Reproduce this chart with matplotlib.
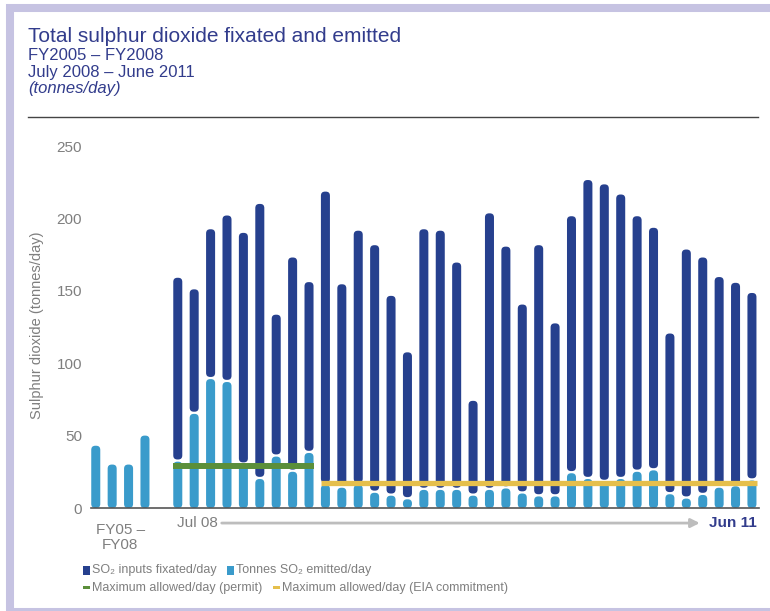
import matplotlib
matplotlib.use('Agg')
import matplotlib.pyplot as plt
from matplotlib.patches import FancyBboxPatch, Rectangle

plt.rcParams['font.family'] = ['Liberation Sans', 'DejaVu Sans']

# annual averages FY2005-FY2008 (only emissions reported)
fy_labels = ['FY05', 'FY06', 'FY07', 'FY08']
fy_emitted = [43, 30, 30, 50]

# monthly, Jul 2008 - Jun 2011
month_labels = ['Jul 08', 'Aug 08', 'Sep 08', 'Oct 08', 'Nov 08', 'Dec 08',
                'Jan 09', 'Feb 09', 'Mar 09', 'Apr 09', 'May 09', 'Jun 09',
                'Jul 09', 'Aug 09', 'Sep 09', 'Oct 09', 'Nov 09', 'Dec 09',
                'Jan 10', 'Feb 10', 'Mar 10', 'Apr 10', 'May 10', 'Jun 10',
                'Jul 10', 'Aug 10', 'Sep 10', 'Oct 10', 'Nov 10', 'Dec 10',
                'Jan 11', 'Feb 11', 'Mar 11', 'Apr 11', 'May 11', 'Jun 11']
emitted = [32, 65, 89, 87, 30, 20, 35.5, 25, 38, 16, 14, 16,
           10.5, 8.5, 6, 12.5, 12.5, 12.5, 8.5, 12.5, 13.5, 10, 8, 8,
           24, 20, 18, 20, 25, 26, 9.5, 6.5, 9, 14, 15, 19]
fixated = [127, 86, 103.5, 115, 160, 190, 98, 148, 118, 202.5, 140.5, 175.5,
           171, 138, 101.5, 180, 179, 157, 65.5, 191, 167, 130.5, 173.5, 119.5,
           177.5, 206.5, 205.5, 196.5, 176.5, 167.5, 111, 172, 164, 145.5, 140.5, 129.5]

permit_limit = 29      # Jul 08 - Mar 09
eia_limit = 17.5       # Apr 09 onwards
permit_months = 9

DARK = '#26408e'
LIGHT = '#3a9bcb'
GREEN = '#5b8f3a'
YELLOW = '#e5bf4c'
TITLE = '#323c8c'
GREY = '#7f7f7f'

W, H = 770, 611
fig = plt.figure(figsize=(W / 100, H / 100), dpi=100)


def fx(x):
    return x / W


def fy(y):
    return 1 - y / H


ax = fig.add_axes([fx(91), 103 / H, 668 / W, 362 / H])
xmin, xmax = -0.29, 40.43
ymin, ymax = 0, 250
ax.set_xlim(xmin, xmax)
ax.set_ylim(ymin, ymax)

# rounded bar pieces; aspect keeps the corners circular on screen
bar_w = 0.55
aspect = (668 / (xmax - xmin)) / (362 / (ymax - ymin))
gap = 1.5


def pill(x, y0, y1, color):
    h = y1 - y0
    if h <= 0:
        return
    r = min(bar_w * 0.45, h / aspect / 2)
    p = FancyBboxPatch((x - bar_w / 2, y0), bar_w, h,
                       boxstyle='round,pad=0,rounding_size=%f' % r,
                       mutation_aspect=aspect, fc=color, ec='none', zorder=2)
    ax.add_patch(p)


fy_pos = list(range(len(fy_labels)))
m_pos = [len(fy_labels) + 1 + i for i in range(len(month_labels))]

for x, e in zip(fy_pos, fy_emitted):
    pill(x, 0, e, LIGHT)
for x, e, f in zip(m_pos, emitted, fixated):
    pill(x, 0, e, LIGHT)
    pill(x, e + gap, e + f, DARK)

ax.hlines(permit_limit, m_pos[0] - 0.3, m_pos[permit_months - 1] + 0.3,
          color=GREEN, lw=4.3, zorder=3)
ax.hlines(eia_limit, m_pos[permit_months] - 0.3, m_pos[-1] + 0.3,
          color=YELLOW, lw=3.8, zorder=3)

for s in ['top', 'right', 'left']:
    ax.spines[s].set_visible(False)
ax.spines['bottom'].set_color('#555555')
ax.spines['bottom'].set_linewidth(1.2)
ax.set_xticks([])
ax.set_yticks(range(0, 251, 50))
ax.tick_params(axis='y', length=0, pad=6.5, labelsize=11, labelcolor=GREY)

fig.text(fx(37), fy(325), 'Sulphur dioxide (tonnes/day)', rotation=90,
         ha='center', va='center', fontsize=10.5, color=GREY)

# x-axis category text
ax.text((fy_pos[0] + fy_pos[-1]) / 2, -10.4, 'FY05 –\nFY08', ha='center', va='top',
        fontsize=11, color=GREY, linespacing=1.05, clip_on=False)
ax.text(m_pos[0] - 0.05, -10.4, month_labels[0], ha='left', va='center',
        fontsize=11, color=GREY, clip_on=False)
ax.text(xmax - 0.15, -10.4, month_labels[-1], ha='right', va='center',
        fontsize=11, color=TITLE, fontweight='bold', clip_on=False)
ax.annotate('', xy=(36.82, -10.4), xytext=(7.68, -10.4), annotation_clip=False,
            arrowprops=dict(arrowstyle='-|>', color='#bdbdbd', lw=2,
                            mutation_scale=13, shrinkA=0, shrinkB=0))

# heading block
fig.text(fx(28), fy(37), 'Total sulphur dioxide fixated and emitted', ha='left',
         va='center', fontsize=15, color=TITLE)
fig.text(fx(28), fy(56), 'FY2005 – FY2008', ha='left', va='center',
         fontsize=12, color=TITLE)
fig.text(fx(28), fy(73), 'July 2008 – June 2011', ha='left', va='center',
         fontsize=12, color=TITLE)
fig.text(fx(28), fy(89), '(tonnes/day)', ha='left', va='center',
         fontsize=12, color=TITLE, style='italic')
fig.add_artist(plt.Line2D([fx(28), fx(758)], [fy(117), fy(117)], color='#444444', lw=1))

# legend
legend_rows = [
    [(83, 570.5, 7, 9, DARK, 'SO\u2082 inputs fixated/day'),
     (227, 570.5, 7, 9, LIGHT, 'Tonnes SO\u2082 emitted/day')],
    [(83, 587.5, 7, 3, GREEN, 'Maximum allowed/day (permit)'),
     (273, 587.5, 7, 3, YELLOW, 'Maximum allowed/day (EIA commitment)')],
]
for row in legend_rows:
    for x, y, w, h, c, label in row:
        fig.add_artist(Rectangle((fx(x), fy(y + h / 2)), w / W, h / H,
                                 transform=fig.transFigure, fc=c, ec='none'))
        fig.text(fx(x + 9), fy(y), label, ha='left', va='center',
                 fontsize=9, color=GREY)

# lavender frame
fig.add_artist(Rectangle((fx(10), fy(612)), (W + 10) / W, (612 - 8) / H,
                         transform=fig.transFigure, fill=False,
                         ec='#c6c3e2', lw=5.8))

fig.savefig('out.png', dpi=100, facecolor='white')
